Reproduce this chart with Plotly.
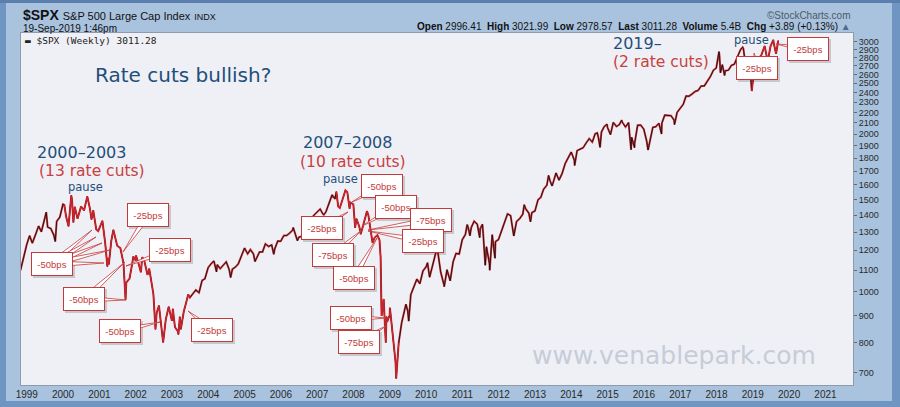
import plotly.graph_objects as go
import pandas as pd

# ---------------- data (weekly-ish closes) ----------------
dates = [
 "1998-10-30","1998-11-30","1998-12-31",
 "1999-01-29","1999-02-26","1999-03-31","1999-04-30","1999-05-28","1999-06-30","1999-07-16","1999-07-30","1999-08-31","1999-09-30","1999-10-15","1999-10-29","1999-11-30","1999-12-31",
 "2000-01-14","2000-01-31","2000-02-25","2000-03-24","2000-03-31","2000-04-14","2000-04-28","2000-05-26","2000-06-30","2000-07-31","2000-09-01","2000-09-29","2000-10-13","2000-10-31","2000-11-30","2000-12-20","2000-12-29",
 "2001-01-31","2001-02-28","2001-03-22","2001-03-30","2001-04-06","2001-04-30","2001-05-21","2001-06-29","2001-07-31","2001-08-31","2001-09-21","2001-09-28","2001-10-31","2001-11-30","2001-12-07","2001-12-31",
 "2002-01-04","2002-01-31","2002-02-22","2002-03-08","2002-03-28","2002-04-30","2002-05-17","2002-05-31","2002-06-28","2002-07-19","2002-07-31","2002-08-23","2002-08-30","2002-09-30","2002-10-04","2002-10-31","2002-11-29","2002-12-31",
 "2003-01-10","2003-01-31","2003-02-28","2003-03-07","2003-03-21","2003-03-31","2003-04-30","2003-05-30","2003-06-13","2003-06-30","2003-07-31","2003-08-29","2003-09-30","2003-10-31","2003-11-28","2003-12-31",
 "2004-01-30","2004-02-27","2004-03-24","2004-03-31","2004-04-30","2004-05-28","2004-06-30","2004-07-30","2004-08-13","2004-08-31","2004-09-30","2004-10-29","2004-11-30","2004-12-31",
 "2005-01-31","2005-02-28","2005-03-31","2005-04-15","2005-04-29","2005-05-31","2005-06-30","2005-07-29","2005-08-31","2005-09-30","2005-10-21","2005-10-31","2005-11-30","2005-12-30",
 "2006-01-31","2006-02-28","2006-03-31","2006-04-28","2006-05-05","2006-05-31","2006-06-16","2006-06-30","2006-07-31","2006-08-31","2006-09-29","2006-10-31","2006-11-30","2006-12-29",
 "2007-01-31","2007-02-28","2007-03-09","2007-03-30","2007-04-30","2007-05-31","2007-06-29","2007-07-13","2007-07-31","2007-08-17","2007-08-31","2007-09-28","2007-10-12","2007-10-31","2007-11-23","2007-11-30","2007-12-31",
 "2008-01-18","2008-01-31","2008-02-29","2008-03-14","2008-03-31","2008-04-30","2008-05-16","2008-05-30","2008-06-30","2008-07-11","2008-07-31","2008-08-29","2008-09-19","2008-09-30","2008-10-10","2008-10-31","2008-11-21","2008-11-28","2008-12-05","2008-12-31",
 "2009-01-02","2009-01-30","2009-02-27","2009-03-06","2009-03-31","2009-04-30","2009-05-29","2009-06-12","2009-06-30","2009-07-10","2009-07-31","2009-08-31","2009-09-30","2009-10-30","2009-11-30","2009-12-31",
 "2010-01-15","2010-02-05","2010-02-26","2010-03-31","2010-04-23","2010-04-30","2010-05-28","2010-06-30","2010-07-02","2010-07-30","2010-08-27","2010-08-31","2010-09-30","2010-10-29","2010-11-30","2010-12-31",
 "2011-01-31","2011-02-18","2011-02-28","2011-03-18","2011-03-31","2011-04-29","2011-05-31","2011-06-24","2011-06-30","2011-07-22","2011-07-29","2011-08-19","2011-08-31","2011-09-30","2011-10-03","2011-10-28","2011-11-25","2011-11-30","2011-12-30",
 "2012-01-31","2012-02-29","2012-03-30","2012-04-30","2012-06-01","2012-06-29","2012-07-31","2012-08-31","2012-09-14","2012-09-28","2012-10-31","2012-11-16","2012-11-30","2012-12-31",
 "2013-01-31","2013-02-28","2013-03-28","2013-04-30","2013-05-17","2013-05-31","2013-06-21","2013-06-28","2013-07-31","2013-08-30","2013-09-30","2013-10-31","2013-11-29","2013-12-31",
 "2014-01-31","2014-02-03","2014-02-28","2014-03-31","2014-04-30","2014-05-30","2014-06-30","2014-07-31","2014-08-29","2014-09-19","2014-09-30","2014-10-17","2014-10-31","2014-11-28","2014-12-26","2014-12-31",
 "2015-01-30","2015-02-27","2015-03-31","2015-04-30","2015-05-22","2015-05-29","2015-06-30","2015-07-31","2015-08-25","2015-08-31","2015-09-29","2015-09-30","2015-10-30","2015-11-30","2015-12-31",
 "2016-01-29","2016-02-12","2016-02-29","2016-03-31","2016-04-29","2016-05-31","2016-06-27","2016-06-30","2016-07-29","2016-08-31","2016-09-30","2016-10-31","2016-11-04","2016-11-30","2016-12-30",
 "2017-01-31","2017-02-28","2017-03-31","2017-04-28","2017-05-31","2017-06-30","2017-07-31","2017-08-31","2017-09-29","2017-10-31","2017-11-30","2017-12-29",
 "2018-01-26","2018-01-31","2018-02-09","2018-02-28","2018-03-23","2018-03-29","2018-04-30","2018-05-31","2018-06-29","2018-07-31","2018-08-31","2018-09-21","2018-09-28","2018-10-26","2018-10-31","2018-11-23","2018-11-30","2018-12-21","2018-12-31",
 "2019-01-31","2019-02-28","2019-03-29","2019-04-30","2019-05-31","2019-06-28","2019-07-26","2019-07-31","2019-08-23","2019-08-30","2019-09-13","2019-09-19",
]
closes = [
 1098.7,1163.6,1229.2,
 1279.6,1238.3,1286.4,1335.2,1301.8,1372.7,1418.8,1328.7,1320.4,1282.7,1247.4,1362.9,1388.9,1469.3,
 1465.2,1394.5,1333.4,1527.5,1498.6,1356.6,1452.4,1378.0,1454.6,1430.8,1520.8,1436.5,1374.2,1429.4,1315.2,1305.6,1320.3,
 1366.0,1239.9,1117.6,1160.3,1128.4,1249.5,1312.8,1224.4,1211.2,1133.6,965.8,1040.9,1059.8,1139.5,1167.1,1148.1,
 1172.5,1130.2,1089.8,1164.3,1147.4,1076.9,1106.6,1067.1,989.8,847.8,911.6,940.9,916.1,815.3,800.6,885.8,936.3,879.8,
 927.6,855.7,841.2,828.9,895.8,848.2,916.9,963.6,988.6,974.5,990.3,1008.0,996.0,1050.7,1058.2,1111.9,
 1131.1,1144.9,1091.3,1126.2,1107.3,1120.7,1140.8,1101.7,1064.8,1104.2,1114.6,1130.2,1173.8,1211.9,
 1181.3,1203.6,1180.6,1142.6,1156.9,1191.5,1191.3,1234.2,1220.3,1228.8,1179.6,1207.0,1249.5,1248.3,
 1280.1,1280.7,1294.9,1310.6,1325.8,1270.1,1251.5,1270.2,1276.7,1303.8,1335.9,1377.9,1400.6,1418.3,
 1438.2,1406.8,1402.8,1420.9,1482.4,1530.6,1503.4,1552.5,1455.3,1445.9,1474.0,1526.8,1561.8,1549.4,1440.7,1481.1,1468.4,
 1325.2,1378.6,1330.6,1288.1,1322.7,1385.6,1425.4,1400.4,1280.0,1239.5,1267.4,1282.8,1255.1,1166.4,899.2,968.8,800.0,896.2,876.1,903.3,
 931.8,825.9,735.1,683.4,797.9,872.8,919.1,946.2,919.3,879.1,987.5,1020.6,1057.1,1036.2,1095.6,1115.1,
 1136.0,1066.2,1104.5,1169.4,1217.3,1186.7,1089.4,1030.7,1022.6,1101.6,1064.6,1049.3,1141.2,1183.3,1180.6,1257.6,
 1286.1,1343.0,1327.2,1279.2,1325.8,1363.6,1345.2,1268.5,1320.6,1345.0,1292.3,1123.5,1218.9,1131.4,1099.2,1285.1,1158.7,1247.0,1257.6,
 1312.4,1365.7,1408.5,1397.9,1278.0,1362.2,1379.3,1406.6,1465.8,1440.7,1412.2,1359.9,1416.2,1426.2,
 1498.1,1514.7,1569.2,1597.6,1667.5,1630.7,1592.4,1606.3,1685.7,1633.0,1681.6,1756.5,1805.8,1848.4,
 1782.6,1741.9,1859.5,1872.3,1883.9,1923.6,1960.2,1930.7,2003.4,2010.4,1972.3,1886.8,2018.1,2067.6,2088.8,2058.9,
 1995.0,2104.5,2067.9,2085.5,2126.1,2107.4,2063.1,2103.8,1867.6,1972.2,1884.1,1920.0,2079.4,2080.4,2043.9,
 1940.2,1864.8,1932.2,2059.7,2065.3,2097.0,2000.5,2098.9,2173.6,2171.0,2168.3,2126.2,2085.2,2198.8,2238.8,
 2278.9,2363.6,2362.7,2384.2,2411.8,2423.4,2470.3,2471.7,2519.4,2575.3,2647.6,2673.6,
 2872.9,2823.8,2619.6,2713.8,2588.3,2640.9,2648.1,2705.3,2718.4,2816.3,2901.5,2929.7,2914.0,2658.7,2711.7,2632.6,2760.2,2416.6,2506.9,
 2704.1,2784.5,2834.4,2945.8,2752.1,2941.8,3025.9,2980.4,2847.1,2926.5,3007.4,3011.3,
]
y_ticks = [700, 800, 900, 1000, 1100, 1200, 1300, 1400, 1500, 1600, 1700, 1800, 1900,
           2000, 2100, 2200, 2300, 2400, 2500, 2600, 2700, 2800, 2900, 3000]
x_years = list(range(1999, 2022))

# rate-cut periods highlighted in red
cut_periods = [("2000-01-01", "2003-06-30"), ("2007-07-01", "2009-04-15"), ("2018-12-01", "2019-09-30")]

# callout labels: text, box centre (px), list of pointer targets (px)
callout_text = ["-50bps", "-25bps", "-25bps", "-50bps", "-50bps", "-25bps",
                "-50bps", "-50bps", "-25bps", "-75bps", "-25bps", "-75bps", "-50bps", "-50bps", "-75bps",
                "-25bps", "-25bps"]
callout_box = [(52, 264), (148, 215), (170, 250), (84, 299), (120, 331), (212, 330),
               (382, 186), (396, 207), (322, 228), (431, 220), (423, 241), (333, 255), (354, 278), (351, 318), (359, 342),
               (757, 68), (808, 49)]
callout_tips = [[(92, 230), (96, 237), (102, 243), (110, 250), (104, 263)],
                [(123, 252)], [(126, 266)], [(125, 262), (126, 300)], [(160, 322)], [(188, 311)],
                [(352, 202)], [(362, 226)], [(348, 212)], [(368, 230)], [(368, 231)], [(362, 230)], [(377, 238)],
                [(386, 318)], [(386, 326)],
                [(754, 53)], [(776, 44)]]

# ---------------- figure ----------------
W, H = 900, 407
L, R, T, B = 21, 853, 33, 385


def px(x):
    return (x - L) / (R - L)


def py(y):
    return (B - y) / (B - T)


df = pd.DataFrame({"date": pd.to_datetime(dates), "close": closes}).sort_values("date")

fig = go.Figure()
fig.add_trace(go.Scatter(x=df["date"], y=df["close"], mode="lines",
                         line=dict(color="#d8393d", width=2.0), hoverinfo="skip", showlegend=False))
fig.add_trace(go.Scatter(x=df["date"], y=df["close"], mode="lines",
                         line=dict(color="#141012", width=0.9), showlegend=False))
for a, b in cut_periods:
    seg = df[(df["date"] >= a) & (df["date"] <= b)]
    fig.add_trace(go.Scatter(x=seg["date"], y=seg["close"], mode="lines",
                             line=dict(color="#c8262e", width=1.3), hoverinfo="skip", showlegend=False))

shapes = []
# outer frame edges
frame = "#6f95c3"
shapes += [
    dict(type="rect", xref="paper", yref="paper", x0=px(0), x1=px(6), y0=py(407), y1=py(0), fillcolor=frame, line_width=0, layer="below"),
    dict(type="rect", xref="paper", yref="paper", x0=px(892), x1=px(900), y0=py(407), y1=py(0), fillcolor=frame, line_width=0, layer="below"),
    dict(type="rect", xref="paper", yref="paper", x0=px(0), x1=px(900), y0=py(407), y1=py(401), fillcolor=frame, line_width=0, layer="below"),
    dict(type="rect", xref="paper", yref="paper", x0=px(0), x1=px(900), y0=py(3), y1=py(0), fillcolor="#5a7fae", line_width=0, layer="below"),
]

red = "#c23a3a"
bw, bh = 42, 24
annotations = []
for txt, (bx, by), tips in zip(callout_text, callout_box, callout_tips):
    shapes.append(dict(type="rect", xref="paper", yref="paper",
                       x0=px(bx - bw / 2 + 2), x1=px(bx + bw / 2 + 2), y0=py(by + bh / 2 + 2), y1=py(by - bh / 2 + 2),
                       fillcolor="rgba(60,60,70,0.22)", line_width=0, layer="above"))
    for tx, ty in tips:
        dx, dy = tx - bx, ty - by
        n = (dx * dx + dy * dy) ** 0.5
        ox, oy = -dy / n * 3.0, dx / n * 3.0
        path = (f"M {px(bx + ox)},{py(by + oy)} L {px(tx)},{py(ty)} "
                f"L {px(bx - ox)},{py(by - oy)} Z")
        shapes.append(dict(type="path", xref="paper", yref="paper", path=path,
                           fillcolor="white", line=dict(color=red, width=0.8), layer="above"))
    annotations.append(dict(xref="paper", yref="paper", x=px(bx), y=py(by), text=txt, showarrow=False,
                            font=dict(family="Arial, Liberation Sans", size=9.5, color=red),
                            bgcolor="white", bordercolor=red, borderwidth=1, borderpad=2,
                            width=bw - 6, height=bh - 6, xanchor="center", yanchor="middle"))

blue = "#1f4f7a"
redt = "#c8403f"


def txt(x, y, s, size, color, family="DejaVu Sans", anchor="center"):
    annotations.append(dict(xref="paper", yref="paper", x=px(x), y=py(y), text=s, showarrow=False,
                            font=dict(family=family, size=size, color=color),
                            xanchor=anchor, yanchor="middle"))


txt(183, 75, "Rate cuts bullish?", 20, blue)
txt(81, 152, "2000–2003", 16, blue)
txt(92, 171, "(13 rate cuts)", 15.5, redt)
txt(85, 187, "pause", 11.5, blue)
txt(347, 142, "2007–2008", 16, blue)
txt(353, 162, "(10 rate cuts)", 15.5, redt)
txt(340, 179, "pause", 11.5, blue)
txt(611, 43, "2019–", 16, blue, anchor="left")
txt(611, 62, "(2 rate cuts)", 15.5, redt, anchor="left")
txt(751, 40, "pause", 11.5, blue)
txt(674, 355, "www.venablepark.com", 25, "#c6ccd8")

# legend line inside plot
txt(23, 40, "▬ $SPX (Weekly) 3011.28", 9.5, "#222", family="DejaVu Sans Mono", anchor="left")

# header
hf = "Arial, Liberation Sans"
annotations.append(dict(xref="paper", yref="paper", x=px(21), y=py(15), showarrow=False, xanchor="left", yanchor="middle",
                        text="<b>$SPX</b> <span style='font-size:11px'>S&P 500 Large Cap Index</span> <span style='font-size:9px'>INDX</span>",
                        font=dict(family=hf, size=14, color="#111")))
annotations.append(dict(xref="paper", yref="paper", x=px(21), y=py(28), showarrow=False, xanchor="left", yanchor="middle",
                        text="19-Sep-2019 1:46pm", font=dict(family=hf, size=10, color="#111")))
annotations.append(dict(xref="paper", yref="paper", x=px(853), y=py(27), showarrow=False, xanchor="right", yanchor="middle",
                        text="<b>Open</b> 2996.41  <b>High</b> 3021.99  <b>Low</b> 2978.57  <b>Last</b> 3011.28  "
                             "<b>Volume</b> 5.4B  <b>Chg</b> +3.89 (+0.13%) <span style='color:#4a6a90'>▲</span>",
                        font=dict(family=hf, size=10, color="#111")))
annotations.append(dict(xref="paper", yref="paper", x=px(853), y=py(15), showarrow=False, xanchor="right", yanchor="middle",
                        text="©StockCharts.com", font=dict(family=hf, size=10, color="#4e5866")))

fig.update_layout(
    width=W, height=H, autosize=False,
    margin=dict(l=L, r=W - R, t=T, b=H - B, pad=0, autoexpand=False),
    paper_bgcolor="#a9c3df",
    plot_bgcolor="#eff0f5",
    showlegend=False,
    shapes=shapes,
    annotations=annotations,
    xaxis=dict(type="date", range=["1998-11-04", "2021-10-05"], automargin=False,
               tickvals=[f"{y}-01-01" for y in x_years], ticktext=[str(y) for y in x_years],
               ticks="", showgrid=False, zeroline=False,
               showline=True, linecolor="#8f9aab", linewidth=1, mirror=True,
               tickfont=dict(family=hf, size=10, color="#2a2a2a")),
    yaxis=dict(type="log", side="right", range=[2.822, 3.494], automargin=False,
               tickvals=y_ticks, ticktext=[str(v) for v in y_ticks],
               ticks="outside", ticklen=3, tickcolor="#667", showgrid=False, zeroline=False,
               showline=True, linecolor="#8f9aab", linewidth=1, mirror=True,
               tickfont=dict(family=hf, size=9, color="#2a2a2a")),
)

fig.write_html("out.html", config={"displayModeBar": False, "responsive": False},
               post_script="document.body.style.margin='0px';document.body.style.overflow='hidden';")
